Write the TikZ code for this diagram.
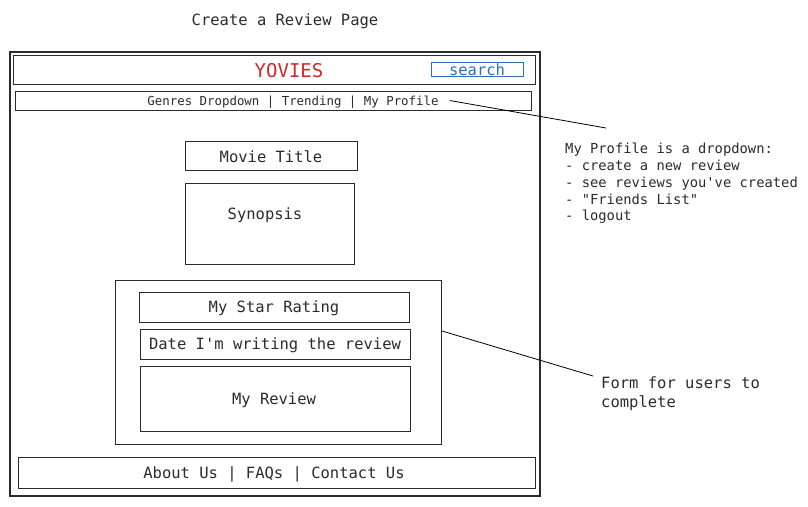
\documentclass[tikz,border=0pt]{standalone}
\usepackage{fontspec}
\setmonofont{DejaVu Sans Mono}
\usepackage{tikz}
\usetikzlibrary{positioning}

\definecolor{inkgray}{HTML}{2B2B2B}
\definecolor{logored}{HTML}{CC2929}
\definecolor{searchblue}{HTML}{2F6DB5}

\tikzset{
	box/.style = {draw=inkgray, line width=1pt, inner sep=0pt, text=inkgray},
	lbl/.style = {text=inkgray, inner sep=0pt, yshift=-1.5pt, font=\ttfamily\fontsize{15.5}{19}\selectfont},
	note/.style = {lbl, align=left, anchor=north west},
	callout/.style = {draw=black, line width=0.8pt}
}

\begin{document}
\begin{tikzpicture}[x=1pt, y=-1pt]

	    \useasboundingbox (0,0) rectangle (808,506);

	    \node[lbl] (pagetitle) at (285, 20) {Create a Review Page};

		% page frame, header and nav bar
		\node[box, line width=1.3pt, minimum width=530, minimum height=444] (frame) at (275, 274) {};
		\node[box, minimum width=522, minimum height=29] (header) at (274, 69.5) {};
		\node[lbl, text=logored, font=\ttfamily\fontsize{19}{22}\selectfont] (logo) at (289, 69) {YOVIES};
		\node[box, draw=searchblue, minimum width=92, minimum height=14] (searchbox) at (477, 69) {};
		\node[lbl, text=searchblue] (searchtxt) at (477, 68.5) {search};

		\node[box, minimum width=516, minimum height=19] (navbar) at (273, 100.5) {};
		\node[lbl, font=\ttfamily\fontsize{12.4}{15}\selectfont] (navtxt) at (293, 100.5) {Genres Dropdown | Trending | My Profile};

		%%%%%%%%%%%%%%%%%%%%%%%%%%%%%%%%%%%%%%%%%%%%%%%%%%%%%%%%%%%%%%%%%%%%%

		\node[box, minimum width=172, minimum height=29] (movietitle) at (271, 155.5) {};
		\node[lbl] at (movietitle) {Movie Title};

		\node[box, minimum width=169, minimum height=81] (synopsis) at (269.5, 223.5) {};
		\node[lbl] at (265, 214) {Synopsis};

		%%%%%%%%%%%%%%%%%%%%%%%%%%%%%%%%%%%%%%%%%%%%%%%%%%%%%%%%%%%%%%%%%%%%%

		\node[box, minimum width=326, minimum height=164] (form) at (278, 362) {};

		\node[box, minimum width=270, minimum height=30] (stars) at (274, 307) {};
		\node[lbl] at (stars) {My Star Rating};

		\node[box, minimum width=270, minimum height=30] (datebox) at (275, 344) {};
		\node[lbl] at (datebox) {Date I'm writing the review};

		\node[box, minimum width=270, minimum height=65] (myreview) at (275, 398.5) {};
		\node[lbl] at (274, 399) {My Review};

		\node[box, minimum width=517, minimum height=31] (footer) at (276.5, 472.5) {};
		\node[lbl] at (274, 473) {About Us | FAQs | Contact Us};

		%%%%%%%%%%%%%%%%%%%%%%%%%%%%%%%%%%%%%%%%%%%%%%%%%%%%%%%%%%%%%%%%%%%%%

		\node[note, font=\ttfamily\fontsize{13.8}{16.8}\selectfont] (profilenote) at (565, 141.5) {My Profile is a dropdown:\\- create a new review\\- see reviews you've created\\- "Friends List"\\- logout};
		\node[note] (formnote) at (601, 375.5) {Form for users to\\complete};

		\coordinate (profileend) at (606, 128);
		\coordinate (formstart) at (442, 331);
		\coordinate (formend) at (593, 376);

		\draw[callout] (navtxt.east) ++(11,-1.5) -- (profileend);
		\draw[callout] (formstart) -- (formend);

\end{tikzpicture}
\end{document}
